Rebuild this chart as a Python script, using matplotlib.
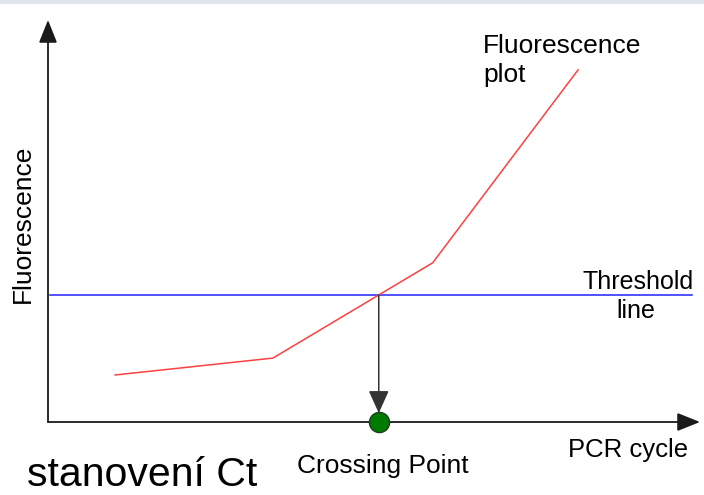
import numpy as np
import matplotlib.pyplot as plt
from matplotlib.patches import Rectangle

plt.rcParams['font.family'] = ['Liberation Sans', 'DejaVu Sans']

# schematic amplification curve (arbitrary units, 0-100)
cycles = [10.3, 34.5, 59.0, 81.3]
fluor = [11.7, 15.9, 39.6, 87.6]
threshold = 31.6
threshold_span = [0.3, 98.8]

# crossing point of curve with threshold
ct = np.interp(threshold, fluor, cycles)

W, H = 704, 495
fig = plt.figure(figsize=(W / 100, H / 100), dpi=100)


def px(x, y):
    """pixel position -> figure fraction"""
    return x / W, 1 - y / H


# light strip along the top edge
fig.patches.append(Rectangle((0, 1 - 4 / H), 1, 4 / H, transform=fig.transFigure,
                             facecolor='#dfe5ec', edgecolor='none'))

left, right, top, bottom = 48, 700, 20, 422
ax = fig.add_axes([left / W, 1 - bottom / H, (right - left) / W, (bottom - top) / H])
ax.set_xlim(0, 100)
ax.set_ylim(0, 100)
ax.axis('off')

# axes with arrow heads
arrow_kw = dict(arrowstyle='-|>,head_length=1.0,head_width=0.4', color='#1a1a1a',
                lw=1.3, mutation_scale=14, shrinkA=0, shrinkB=0)
ax.annotate('', xy=(0, 1), xytext=(0, 0), xycoords='axes fraction', arrowprops=arrow_kw)
ax.annotate('', xy=(1, 0), xytext=(0, 0), xycoords='axes fraction', arrowprops=arrow_kw)

# threshold line and fluorescence curve
ax.plot(threshold_span, [threshold, threshold], color='#2222ff', lw=1.1, clip_on=False)
ax.plot(cycles, fluor, color='#ff4040', lw=1.1, clip_on=False)

# drop arrow to the crossing point
ax.annotate('', xy=(ct, 2.2), xytext=(ct, threshold),
            arrowprops=dict(arrowstyle='-|>,head_length=1.0,head_width=0.45',
                            color='#333333', lw=1.1, mutation_scale=14,
                            shrinkA=0, shrinkB=0, facecolor='black'))
ax.plot([ct], [0], 'o', markersize=14.5, markerfacecolor='#007a00',
        markeredgecolor='#1f3f1f', markeredgewidth=1.0, clip_on=False, zorder=5)

# labels
fig.text(*px(22.5, 224), 'Fluorescence', rotation=90, fontsize=19,
         ha='center', va='center')
fig.text(*px(483, 53), 'Fluorescence', fontsize=19, ha='left', va='baseline')
fig.text(*px(483, 82), 'plot', fontsize=19, ha='left', va='baseline')
fig.text(*px(638, 289), 'Threshold', fontsize=18, ha='center', va='baseline')
fig.text(*px(636, 318), 'line', fontsize=18, ha='center', va='baseline')
fig.text(*px(688, 457), 'PCR cycle', fontsize=18.5, ha='right', va='baseline')
fig.text(*px(383, 473), 'Crossing Point', fontsize=19, ha='center', va='baseline')
fig.text(*px(27, 486), 'stanovení Ct', fontsize=29.5, ha='left', va='baseline')

fig.savefig('out.png', dpi=100)
